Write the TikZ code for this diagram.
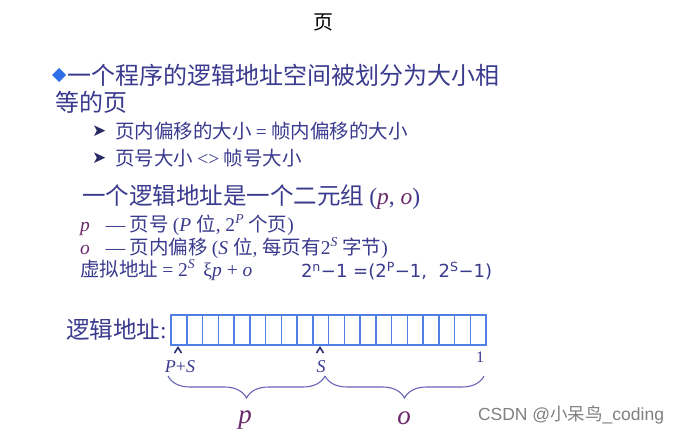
\documentclass[tikz,border=0pt]{standalone}
\usepackage{fontspec}
\setmainfont{Liberation Serif}
\setsansfont{Liberation Sans}
\newfontfamily\cjk{Noto Sans CJK SC}
\newfontfamily\symf{DejaVu Sans}
\usetikzlibrary{decorations.pathreplacing}
\definecolor{txtblue}{HTML}{3A3A8E}
\definecolor{maroon}{HTML}{6A2A6A}
\definecolor{cellblue}{HTML}{5080E4}
\definecolor{bracecol}{HTML}{6A64B8}
\definecolor{diam}{HTML}{2E6FE8}
\begin{document}
\begin{tikzpicture}[x=1pt,y=-1pt,
  every node/.style={inner sep=0pt,outer sep=0pt},
  big/.style={font=\fontsize{24}{24}\selectfont\cjk,text=txtblue,anchor=west},
  mid/.style={font=\fontsize{19.5}{19.5}\selectfont\cjk,text=txtblue,anchor=west},
  arrowmark/.style={font=\fontsize{17}{17}\selectfont\symf,text=txtblue!70!black,anchor=west},
  cellbox/.style={draw=cellblue,line width=1.5pt},
  caret/.style={draw=txtblue!80!black,line width=1.6pt},
  bracestyle/.style={draw=bracecol,line width=1.1pt,decorate,decoration={brace,mirror,amplitude=22pt}}]
\useasboundingbox (0,0) rectangle (692,436);
\fill[white] (0,0) rectangle (692,436);
\node (title) at (323,22) {\fontsize{20}{20}\selectfont\cjk 页};
\fill[diam] (52,75) -- (59,68) -- (66,75) -- (59,82) -- cycle;
\node[big] (l1) at (67,75) {一个程序的逻辑地址空间被划分为大小相};
\node[big] (l2) at (55,102) {等的页};
\node[arrowmark] (a1) at (92,131) {➤};
\node[mid] (s1) at (115,131) {页内偏移的大小 {\rmfamily =} 帧内偏移的大小};
\node[arrowmark] (a2) at (92,158) {➤};
\node[mid] (s2) at (115,158) {页号大小 {\rmfamily <>} 帧号大小};
\node[big,font=\fontsize{23.5}{23.5}\selectfont\cjk] (tup) at (82,197) {一个逻辑地址是一个二元组 {\rmfamily (\textcolor{maroon}{\itshape p}, \textcolor{maroon}{\itshape o})}};
\node[mid] (pl) at (80,225) {{\rmfamily\itshape\textcolor{maroon}{p}}\hspace{16pt}{\rmfamily —} 页号 {\rmfamily (\textit{P} }位{\rmfamily , 2\textsuperscript{\textit{P}}} 个页{\rmfamily )}};
\node[mid] (ol) at (80,248) {{\rmfamily\itshape\textcolor{maroon}{o}}\hspace{16pt}{\rmfamily —} 页内偏移 {\rmfamily (\textit{S} }位{\rmfamily , }每页有{\rmfamily 2\textsuperscript{\textit{S}}} 字节{\rmfamily )}};
\node[mid] (va) at (80,270) {虚拟地址 {\rmfamily = 2\textsuperscript{\textit{S}} \,ξ\textit{p} + \textit{o}}};
\node[mid,font=\fontsize{18}{18}\selectfont\symf] (eq) at (301,271) {2\textsuperscript{n}−1 =(2\textsuperscript{P}−1,\ \ 2\textsuperscript{S}−1)};
\node[big,font=\fontsize{23.5}{23.5}\selectfont\cjk] (la) at (66,330) {逻辑地址{\rmfamily :}};
\foreach \i in {0,...,19}{
  \draw[cellbox] ({171+\i*15.75},315) rectangle ({171+(\i+1)*15.75},345);
}
\coordinate (bl) at (168,376);
\coordinate (bm) at (325,376);
\coordinate (br) at (484,376);
\draw[caret] (174.5,353) -- (178,347.5) -- (181.5,353);
\draw[caret] (316.5,353) -- (320,347.5) -- (323.5,353);
\node (ps) at (180,367) {\fontsize{18}{18}\selectfont\textcolor{txtblue}{\textit{P}+\textit{S}}};
\node (sl) at (321,367) {\fontsize{18}{18}\selectfont\textcolor{txtblue}{\textit{S}}};
\node (one) at (480,357) {\fontsize{16}{16}\selectfont\textcolor{txtblue}{1}};
\draw[bracestyle] (bl) -- (bm);
\draw[bracestyle] (bm) -- (br);
\node (pp) at (245,420) {\fontsize{27}{27}\selectfont\itshape\textcolor{maroon}{p}};
\node (oo) at (404,418) {\fontsize{27}{27}\selectfont\itshape\textcolor{maroon}{o}};
\node[anchor=west,text=gray] (wm) at (478,415) {\fontsize{17.5}{17.5}\selectfont\sffamily CSDN @{\cjk 小呆鸟}\_coding};
\end{tikzpicture}
\end{document}
